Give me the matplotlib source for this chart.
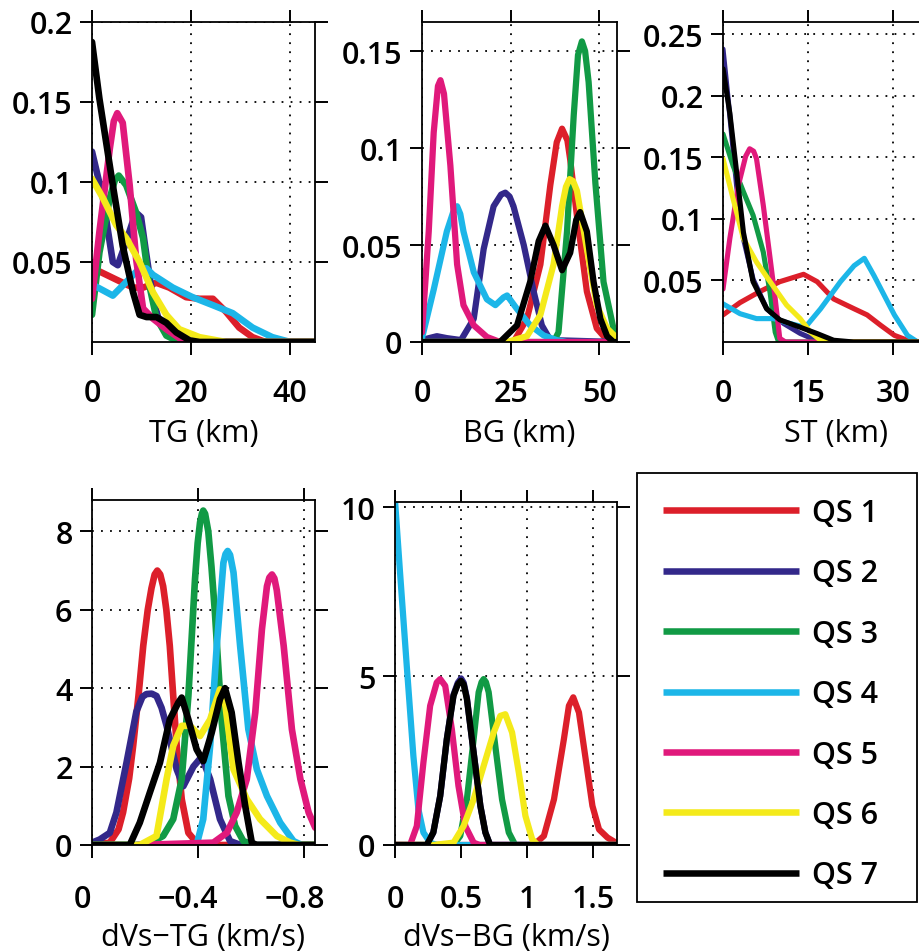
import numpy as np
import matplotlib
matplotlib.use('Agg')
import matplotlib.pyplot as plt
import matplotlib.transforms as mtransforms
from matplotlib.patches import Rectangle

plt.rcParams['font.family'] = ['Open Sans', 'DejaVu Sans']
plt.rcParams['font.weight'] = 'semibold'
plt.rcParams['axes.unicode_minus'] = True

LABELS = ['QS 1', 'QS 2', 'QS 3', 'QS 4', 'QS 5', 'QS 6', 'QS 7']
COLORS = ['#DC1F2A', '#33288A', '#119A45', '#1CB6E8', '#E0197B', '#F4EA1A', '#000000']

# ── TG (km) ──────────────────────────────────────────────────────────────────
tg_x = [
    [0, 0.9, 4.9, 8.3, 10.3, 13, 15.6, 19, 21.7, 24.4, 27, 29.7, 32.4, 35, 45],
    [0, 2.2, 4.2, 5.2, 6.6, 8.3, 9.2, 9.9, 10.9, 12.3, 13.6, 16.3, 19, 45],
    [0, 1.5, 3.6, 4.6, 5.4, 6.9, 8.9, 10.3, 11.6, 13, 15, 17.6, 45],
    [0, 4.2, 6.9, 9.6, 11, 12.3, 16.3, 20.3, 24.4, 28.4, 32.4, 36.4, 40, 45],
    [0, 1.5, 3.6, 4.4, 5.1, 6.2, 7.6, 8.9, 10.3, 12.3, 15, 18.3, 19.5, 45],
    [0, 2.2, 4.9, 6.9, 9.6, 12.3, 15, 17.6, 21.7, 27, 45],
    [0, 1.5, 4.2, 6.2, 8.3, 9.6, 11, 13, 15, 17, 19.7, 21.7, 45],
]
tg_y = [
    [0.046, 0.045, 0.039, 0.034, 0.034, 0.037, 0.034, 0.028, 0.027, 0.027, 0.019, 0.009, 0.003, 0.0, 0.0],
    [0.119, 0.09, 0.05, 0.048, 0.06, 0.076, 0.08, 0.078, 0.056, 0.027, 0.0125, 0.004, 0, 0],
    [0.017, 0.056, 0.09, 0.101, 0.104, 0.098, 0.081, 0.065, 0.035, 0.015, 0.004, 0, 0],
    [0.036, 0.029, 0.0375, 0.046, 0.046, 0.042, 0.034, 0.028, 0.023, 0.018, 0.009, 0.003, 0, 0],
    [0.027, 0.069, 0.121, 0.138, 0.143, 0.137, 0.098, 0.052, 0.021, 0.0146, 0.008, 0.001, 0, 0],
    [0.102, 0.09, 0.073, 0.065, 0.05, 0.031, 0.017, 0.008, 0.003, 0, 0],
    [0.1875, 0.152, 0.098, 0.06, 0.031, 0.017, 0.0156, 0.0156, 0.012, 0.006, 0.001, 0, 0],
]

# ── BG (km) ──────────────────────────────────────────────────────────────────
bg_x = [
    [0, 25.8, 29.6, 33.4, 36.2, 38, 39.5, 41, 41.8, 43.7, 46.5, 49.3, 52.2, 55],
    [0, 2, 4.2, 7, 11, 14.6, 17.4, 20.2, 22.3, 23.5, 24.7, 25.8, 28.7, 31.5, 33.8, 36.2, 55],
    [0, 37.1, 38.5, 40.9, 42.8, 44, 45.1, 46, 47, 48.9, 51.2, 54, 55],
    [0, 3.3, 7, 8.8, 9.9, 10.8, 11.7, 14.6, 18.3, 20.7, 23, 24, 26.8, 30.5, 34.3, 38, 40.8, 55],
    [0, 1.9, 3.3, 4.5, 5.2, 6.2, 8, 9.9, 11.7, 14.6, 18.3, 22, 55],
    [0, 24, 29.6, 33.4, 37.1, 39.5, 40.6, 41.6, 42.6, 43.7, 46.5, 49.3, 52.2, 55],
    [0, 22, 26.8, 30.5, 32.9, 34.8, 37.1, 39.5, 41.8, 43.5, 44.6, 46.5, 48.4, 50.3, 52.2, 54, 55],
]
bg_y = [
    [0, 0, 0.012, 0.040, 0.081, 0.103, 0.110, 0.104, 0.094, 0.065, 0.026, 0.007, 0.001, 0],
    [0.001, 0.002, 0.003, 0.002, 0.001, 0.012, 0.048, 0.070, 0.076, 0.077, 0.075, 0.070, 0.05, 0.026, 0.0086, 0.001, 0],
    [0, 0, 0.005, 0.057, 0.117, 0.148, 0.155, 0.150, 0.134, 0.082, 0.031, 0.007, 0.003],
    [0.002, 0.027, 0.057, 0.067, 0.070, 0.066, 0.057, 0.036, 0.022, 0.019, 0.023, 0.024, 0.017, 0.0086, 0.0034,
     0.001, 0, 0],
    [0.005, 0.057, 0.108, 0.132, 0.135, 0.128, 0.091, 0.040, 0.019, 0.0086, 0.0026, 0, 0],
    [0, 0, 0.003, 0.014, 0.040, 0.070, 0.080, 0.084, 0.083, 0.078, 0.048, 0.019, 0.007, 0.002],
    [0, 0, 0.0086, 0.031, 0.052, 0.060, 0.05, 0.037, 0.046, 0.063, 0.067, 0.057, 0.031, 0.012, 0.003, 0, 0],
]

# ── ST (km) ──────────────────────────────────────────────────────────────────
st_x = [
    [0, 3, 6.5, 10, 14.2, 16.6, 19.5, 23.1, 25.4, 27.8, 30.2, 32.5, 34.8, 40],
    [0, 1.2, 2.4, 3.6, 5.3, 7.7, 10.7, 13.6, 16.6, 19.5, 40],
    [0, 1.8, 3.6, 5.3, 7.1, 8.3, 9.2, 9.8, 40],
    [0, 3, 5.9, 8.9, 11.8, 14.5, 17.2, 20.7, 23.1, 24.9, 26.6, 28.4, 30.2, 32.5, 34.3, 40],
    [0, 1.2, 2.7, 4.0, 4.7, 5.4, 5.9, 7.1, 8.3, 9.2, 10, 11, 40],
    [0, 1.8, 3.6, 5.9, 8.3, 11.2, 13.6, 15.4, 17.2, 19, 40],
    [0, 1.2, 2.4, 3.6, 5.3, 7.7, 10, 13.6, 16.6, 19.5, 23, 40],
]
st_y = [
    [0.022, 0.032, 0.041, 0.049, 0.055, 0.049, 0.035, 0.027, 0.022, 0.0135, 0.0054, 0.0014, 0, 0],
    [0.238, 0.184, 0.127, 0.084, 0.051, 0.027, 0.015, 0.007, 0.001, 0, 0],
    [0.169, 0.143, 0.122, 0.103, 0.073, 0.04, 0.008, 0, 0],
    [0.031, 0.023, 0.019, 0.019, 0.015, 0.012, 0.027, 0.049, 0.062, 0.068, 0.054, 0.038, 0.022, 0.0054, 0, 0],
    [0.043, 0.084, 0.127, 0.151, 0.157, 0.155, 0.149, 0.111, 0.068, 0.035, 0.003, 0, 0],
    [0.149, 0.116, 0.084, 0.065, 0.049, 0.03, 0.019, 0.008, 0.0014, 0, 0],
    [0.222, 0.186, 0.138, 0.089, 0.049, 0.027, 0.018, 0.012, 0.0068, 0.0014, 0, 0],
]

# ── dVs-TG (km/s) ────────────────────────────────────────────────────────────
dtg_x = [
    [0, -0.067, -0.1, -0.117, -0.14, -0.155, -0.175, -0.193, -0.21, -0.224, -0.236, -0.246, -0.257, -0.268,
     -0.28, -0.293, -0.306, -0.319, -0.338, -0.363, -0.394, -0.43, -0.84],
    [0, -0.029, -0.067, -0.092, -0.13, -0.167, -0.19, -0.205, -0.225, -0.243, -0.262, -0.281, -0.319, -0.344,
     -0.382, -0.413, -0.445, -0.482, -0.52, -0.56, -0.84],
    [0, -0.205, -0.268, -0.306, -0.338, -0.363, -0.388, -0.398, -0.407, -0.414, -0.419, -0.426, -0.438, -0.45,
     -0.463, -0.489, -0.514, -0.539, -0.57, -0.61, -0.84],
    [0, -0.394, -0.419, -0.445, -0.47, -0.495, -0.503, -0.511, -0.52, -0.533, -0.558, -0.589, -0.621, -0.659,
     -0.709, -0.759, -0.79, -0.84],
    [-0.17, -0.457, -0.508, -0.545, -0.583, -0.615, -0.64, -0.659, -0.668, -0.678, -0.687, -0.696, -0.722,
     -0.753, -0.785, -0.816, -0.841],
    [0, -0.18, -0.243, -0.281, -0.306, -0.338, -0.369, -0.407, -0.445, -0.482, -0.5, -0.533, -0.583, -0.633,
     -0.696, -0.747, -0.78, -0.84],
    [0, -0.142, -0.18, -0.218, -0.256, -0.293, -0.325, -0.338, -0.363, -0.394, -0.419, -0.451, -0.482, -0.501,
     -0.526, -0.552, -0.577, -0.602, -0.62, -0.84],
]
dtg_y = [
    [0, 0.06, 0.4, 0.83, 1.7, 2.53, 3.8, 5.08, 6.0, 6.55, 6.9, 7.0, 6.9, 6.6, 6.0, 5.08, 3.8, 2.53, 1.17, 0.31,
     0.06, 0, 0],
    [0.06, 0.14, 0.31, 0.83, 2.1, 3.4, 3.78, 3.85, 3.86, 3.8, 3.5, 3.04, 1.93, 1.5, 2.0, 2.25, 1.68, 0.66, 0.1,
     0, 0],
    [0, 0, 0.23, 0.66, 1.68, 3.8, 6.78, 7.7, 8.23, 8.45, 8.53, 8.45, 8.0, 7.1, 5.93, 3.12, 1.25, 0.49, 0.1, 0, 0],
    [0, 0, 0.66, 2.53, 5.08, 7.2, 7.42, 7.5, 7.4, 6.95, 5.08, 2.95, 1.93, 1.25, 0.57, 0.1, 0, 0],
    [0, 0.06, 0.31, 0.83, 1.68, 3.38, 5.5, 6.6, 6.82, 6.9, 6.8, 6.5, 5.08, 2.95, 1.68, 0.83, 0.44],
    [0, 0, 0.23, 1.68, 2.53, 3.04, 3.04, 2.78, 3.2, 3.97, 3.7, 1.93, 1.17, 0.66, 0.23, 0.06, 0, 0],
    [0, 0, 0.57, 1.34, 2.1, 3.2, 3.63, 3.76, 3.2, 2.44, 2.14, 2.87, 3.72, 4.0, 3.38, 2.1, 1.0, 0.06, 0, 0],
]

# ── dVs-BG (km/s) ────────────────────────────────────────────────────────────
dbg_x = [
    [0, 1.05, 1.127, 1.203, 1.278, 1.316, 1.349, 1.392, 1.443, 1.494, 1.544, 1.608, 1.671],
    [0, 0.24, 0.29, 0.342, 0.392, 0.443, 0.475, 0.5, 0.52, 0.544, 0.595, 0.646, 0.684, 0.72, 1.68],
    [0, 0.443, 0.494, 0.544, 0.595, 0.633, 0.655, 0.671, 0.688, 0.709, 0.759, 0.81, 0.861, 0.91, 1.68],
    [0, 0.038, 0.089, 0.139, 0.177, 0.215, 0.266, 0.316, 1.68],
    [0, 0.114, 0.165, 0.215, 0.266, 0.316, 0.342, 0.38, 0.43, 0.48, 0.532, 0.595, 0.64, 1.68],
    [0, 0.29, 0.443, 0.519, 0.595, 0.671, 0.747, 0.797, 0.835, 0.886, 0.937, 0.987, 1.038, 1.08, 1.68],
    [0, 0.24, 0.29, 0.342, 0.392, 0.443, 0.475, 0.499, 0.52, 0.544, 0.595, 0.646, 0.684, 0.72, 1.68],
]
dbg_y = [
    [0, 0, 0.27, 1.35, 3.13, 4.12, 4.37, 3.92, 2.54, 1.16, 0.46, 0.22, 0.07],
    [0, 0, 0.37, 1.45, 3.13, 4.45, 4.8, 4.93, 4.8, 4.35, 2.74, 1.16, 0.37, 0, 0],
    [0, 0, 0.27, 1.35, 3.13, 4.52, 4.82, 4.91, 4.82, 4.52, 2.93, 1.35, 0.37, 0, 0],
    [10.2, 8.07, 5.3, 2.64, 1.06, 0.37, 0.07, 0, 0],
    [0, 0, 0.56, 2.44, 4.12, 4.81, 4.91, 4.71, 3.43, 1.75, 0.56, 0.07, 0, 0],
    [0, 0, 0.07, 0.56, 1.35, 2.34, 3.33, 3.82, 3.87, 3.33, 2.14, 0.86, 0.17, 0, 0],
    [0, 0, 0.37, 1.45, 3.13, 4.42, 4.75, 4.86, 4.75, 4.32, 2.74, 1.16, 0.37, 0, 0],
]

W, H = 920, 953
FS = 22

fig = plt.figure(figsize=(W / 100, H / 100), dpi=100)


def make_ax(left, top, right, bottom):
    return fig.add_axes([left / W, 1 - bottom / H, (right - left) / W, (bottom - top) / H])


panels = [
    # xs, ys, box (px), xlim, ylim, xticks, xticklabels, yticks, yticklabels, xlabel, lw, row
    (tg_x, tg_y, (92, 23, 315, 343), (0, 45), (0, 0.2), [0, 20, 40], ['0', '20', '40'],
     [0.05, 0.1, 0.15, 0.2], ['0.05', '0.1', '0.15', '0.2'], 'TG (km)', 4.8, 0),
    (bg_x, bg_y, (422, 23, 617, 343), (0, 55), (0, 0.165), [0, 25, 50], ['0', '25', '50'],
     [0, 0.05, 0.1, 0.15], ['0', '0.05', '0.1', '0.15'], 'BG (km)', 4.5, 0),
    (st_x, st_y, (723, 23, 950, 343), (0, 40), (0, 0.26), [0, 15, 30], ['0', '15', '30'],
     [0.05, 0.1, 0.15, 0.2, 0.25], ['0.05', '0.1', '0.15', '0.2', '0.25'], 'ST (km)', 3.7, 0),
    (dtg_x, dtg_y, (92, 501, 315, 846), (0, -0.84), (0, 8.8), [0, -0.4, -0.8], ['0', '\u22120.4', '\u22120.8'],
     [0, 2, 4, 6, 8], ['0', '2', '4', '6', '8'], 'dVs\u2212TG (km/s)', 4.8, 1),
    (dbg_x, dbg_y, (395, 503, 617, 846), (0, 1.68), (0, 10.15), [0, 0.5, 1, 1.5], ['0', '0.5', '1', '1.5'],
     [0, 5, 10], ['0', '5', '10'], 'dVs\u2212BG (km/s)', 4.5, 1),
]

handles = []
for i, (xs, ys, box, xlim, ylim, xt, xtl, yt, ytl, xlabel, lw, row) in enumerate(panels):
    ax = make_ax(*box)
    for k in range(7):
        ln, = ax.plot(xs[k], ys[k], color=COLORS[k], lw=lw, label=LABELS[k],
                      solid_joinstyle='round', solid_capstyle='round')
        if i == 0:
            handles.append(ln)
    ax.set_xlim(*xlim)
    ax.set_ylim(*ylim)
    ax.set_xticks(xt)
    ax.set_xticklabels(xtl)
    ax.set_yticks(yt)
    ax.set_yticklabels(ytl)
    ax.grid(True, color='k', linestyle=(0, (1, 4)), linewidth=1.3)
    ax.set_axisbelow(True)
    ax.tick_params(direction='out', length=9, width=1.4, top=True, right=True,
                   labelsize=FS, pad=5, color='k')
    ax.tick_params(axis='x', pad=17 if row == 0 else 19)
    for sp in ax.spines.values():
        sp.set_linewidth(1.3)
        sp.set_color('k')
    ax.set_xlabel(xlabel, fontsize=FS, labelpad=7 if row == 0 else 6)
    if i == 3:
        # tick labels of the reversed axis sit a little left of their ticks
        shift = mtransforms.ScaledTranslation(-0.10, 0, fig.dpi_scale_trans)
        for lab in ax.get_xticklabels():
            lab.set_transform(lab.get_transform() + shift)

# legend box (637..917 x 474..903 px)
fig.patches.append(Rectangle((637 / W, 1 - 903 / H), 280 / W, 429 / H, transform=fig.transFigure,
                             fill=False, edgecolor='k', linewidth=1.3))
leg = fig.legend(handles, LABELS, loc='upper left',
                 bbox_to_anchor=(637 / W, 1 - 474 / H, 280 / W, 0.001), mode='expand',
                 fontsize=FS, frameon=False,
                 handlelength=4.45, handletextpad=0.42, labelspacing=0.995, borderpad=0.85,
                 borderaxespad=0)
for l in leg.get_lines():
    l.set_linewidth(4.7)
    l.set_solid_capstyle('butt')

fig.savefig('out.png', dpi=100)
